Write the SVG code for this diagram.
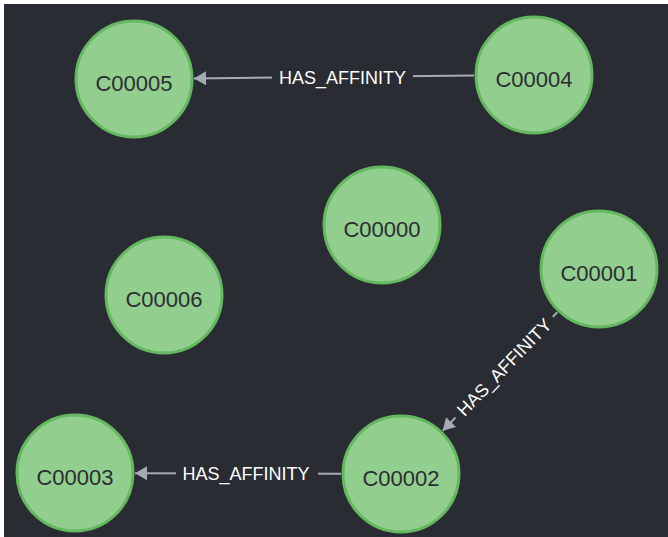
<svg xmlns="http://www.w3.org/2000/svg" width="668" height="537" viewBox="0 0 668 537">
  <style>
    .node circle { fill: #92cf8e; stroke: #64b85f; stroke-width: 3; }
    .node text { font-family: "Liberation Sans", Arial, sans-serif; font-size: 22px; fill: #2b2d33; text-anchor: middle; }
    .edge line { stroke: #a5abb6; stroke-width: 2; }
    .lbl { font-family: "Liberation Sans", Arial, sans-serif; font-size: 18px; fill: #ffffff; text-anchor: middle; }
    .gap { fill: #292c33; }
  </style>
  <defs>
    <marker id="arrow" markerUnits="userSpaceOnUse" markerWidth="14" markerHeight="16" viewBox="-13 -8 14 16" refX="0" refY="0" orient="auto">
      <path d="M0,0 L-12,-7 L-12,7 Z" fill="#a5abb6"/>
    </marker>
  </defs>
  <rect x="0" y="0" width="668" height="537" fill="#ffffff"/>
  <rect x="4" y="4" width="664" height="533" fill="#292c33"/>

  <g id="connectors">
    <g class="edge" id="e-4-5">
      <line x1="474" y1="75.6" x2="194" y2="78.4" marker-end="url(#arrow)"/>
      <rect class="gap" x="272" y="66" width="141" height="22"/>
      <text class="lbl" x="342.5" y="83.5">HAS_AFFINITY</text>
    </g>
    <g class="edge" id="e-1-2">
      <line x1="557.3" y1="312.2" x2="442.7" y2="430.8" marker-end="url(#arrow)"/>
      <g transform="translate(504,367) rotate(-46)">
        <rect class="gap" x="-70" y="-11" width="140" height="22"/>
        <text class="lbl" x="0" y="6.5">HAS_AFFINITY</text>
      </g>
    </g>
    <g class="edge" id="e-2-3">
      <line x1="341" y1="473.8" x2="135" y2="473.2" marker-end="url(#arrow)"/>
      <rect class="gap" x="176" y="462" width="142" height="22"/>
      <text class="lbl" x="246" y="480">HAS_AFFINITY</text>
    </g>
  </g>

  <g class="node" id="C00005"><circle cx="134" cy="79" r="58"/><text x="134" y="91">C00005</text></g>
  <g class="node" id="C00004"><circle cx="534" cy="75" r="58"/><text x="534" y="87">C00004</text></g>
  <g class="node" id="C00000"><circle cx="382" cy="225" r="58"/><text x="382" y="237">C00000</text></g>
  <g class="node" id="C00006"><circle cx="164" cy="295" r="58"/><text x="164" y="307">C00006</text></g>
  <g class="node" id="C00001"><circle cx="599" cy="269" r="58"/><text x="599" y="281">C00001</text></g>
  <g class="node" id="C00002"><circle cx="401" cy="474" r="58"/><text x="401" y="486">C00002</text></g>
  <g class="node" id="C00003"><circle cx="75" cy="473" r="58"/><text x="75" y="485">C00003</text></g>
</svg>
